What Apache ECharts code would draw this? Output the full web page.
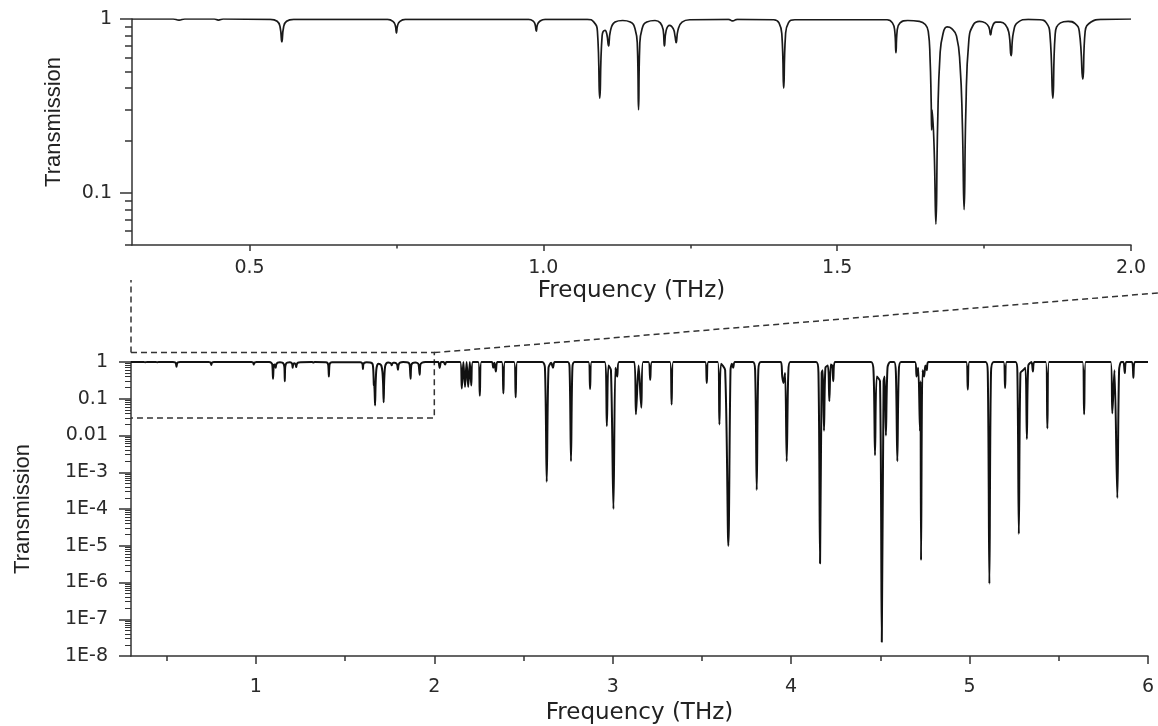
<!DOCTYPE html>
<html><head><meta charset="utf-8">
<script src="https://cdn.jsdelivr.net/npm/echarts@6/dist/echarts.min.js"></script>
<style>html,body{margin:0;padding:0;background:#fff}#c{width:1158px;height:726px}</style>
</head><body><div id="c"></div>
<script>
// ---- data: [frequency THz, transmission] ----
const topPts = [
[0.30,1],[0.37,1],[0.38,0.985],[0.39,1],
[0.44,1],[0.447,0.985],[0.455,1],
[0.535,0.995],[0.547,0.97],[0.552,0.9],[0.555,0.74],[0.558,0.9],[0.563,0.97],[0.575,0.995],
[0.735,0.995],[0.744,0.97],[0.748,0.92],[0.75,0.83],[0.752,0.92],[0.756,0.97],[0.765,0.995],
[0.975,0.995],[0.983,0.97],[0.986,0.93],[0.988,0.85],[0.99,0.93],[0.994,0.97],[1.003,0.995],
[1.075,0.995],[1.086,0.96],[1.092,0.85],[1.096,0.35],[1.1,0.8],[1.105,0.86],[1.108,0.82],[1.111,0.7],[1.114,0.85],[1.122,0.96],[1.135,0.98],
[1.148,0.96],[1.156,0.88],[1.16,0.7],[1.162,0.3],[1.164,0.7],[1.168,0.88],[1.176,0.96],[1.19,0.98],
[1.199,0.95],[1.204,0.86],[1.206,0.7],[1.209,0.86],[1.215,0.92],[1.221,0.88],[1.224,0.8],[1.226,0.73],[1.229,0.86],[1.236,0.96],[1.25,0.99],
[1.315,0.995],[1.322,0.975],[1.33,0.995],
[1.392,0.99],[1.401,0.95],[1.406,0.8],[1.409,0.4],[1.412,0.8],[1.417,0.95],[1.428,0.99],
[1.585,0.99],[1.594,0.95],[1.598,0.85],[1.6,0.64],[1.602,0.85],[1.607,0.95],[1.62,0.98],
[1.64,0.97],[1.65,0.93],[1.655,0.85],[1.658,0.6],[1.66,0.33],[1.6608,0.23],[1.6615,0.3],[1.665,0.18],[1.668,0.066],[1.671,0.25],[1.675,0.62],[1.68,0.82],[1.687,0.9],
[1.695,0.88],[1.703,0.8],[1.709,0.55],[1.713,0.25],[1.716,0.08],[1.719,0.3],[1.724,0.75],[1.732,0.93],[1.742,0.97],
[1.752,0.95],[1.758,0.9],[1.761,0.81],[1.764,0.9],[1.77,0.96],[1.778,0.96],[1.786,0.93],[1.792,0.84],[1.796,0.615],[1.8,0.84],[1.808,0.96],[1.825,0.995],
[1.845,0.99],[1.856,0.95],[1.862,0.82],[1.867,0.35],[1.871,0.82],[1.88,0.95],[1.893,0.97],[1.905,0.94],[1.912,0.85],[1.918,0.45],[1.922,0.85],[1.932,0.96],[1.95,0.995],[2.0,1]
];
const highPts = [
[2.0,1],
[2.022,1],[2.030,0.69],[2.038,1],
[2.052,1],[2.060,0.85],[2.068,1],
[2.145,1],[2.154,0.19],[2.163,1],[2.172,0.21],[2.181,1],[2.190,0.21],[2.199,1],[2.207,0.23],[2.216,1],
[2.246,1],[2.255,0.12],[2.264,1],
[2.322,1],[2.330,0.7],[2.337,0.95],[2.345,0.55],[2.353,1],
[2.378,1],[2.387,0.14],[2.396,1],
[2.447,1],[2.456,0.11],[2.465,1],
[2.605,1],[2.620,0.7],[2.630,5.5e-4],[2.640,0.7],[2.655,0.95],[2.665,0.7],[2.675,1],
[2.748,1],[2.758,0.7],[2.766,0.002],[2.774,0.7],[2.786,1],
[2.864,1],[2.873,0.185],[2.882,1],
[2.955,1],[2.967,0.018],[2.976,0.8],[2.990,0.6],[3.004,1e-4],[3.015,0.7],[3.025,0.4],[3.035,1],
[3.121,1],[3.130,0.038],[3.145,0.8],[3.160,0.057],[3.170,1],
[3.200,1],[3.210,0.33],[3.220,1],
[3.321,1],[3.330,0.07],[3.339,1],
[3.518,1],[3.527,0.27],[3.536,1],
[3.589,1],[3.598,0.02],[3.607,0.9],[3.630,0.6],[3.648,1e-5],[3.660,0.6],[3.668,0.9],[3.675,0.7],[3.685,1],
[3.785,1],[3.798,0.6],[3.807,3.3e-4],[3.816,0.6],[3.830,1],
[3.942,1],[3.950,0.4],[3.957,0.27],[3.966,0.5],[3.975,0.002],[3.984,0.5],[3.995,1],
[4.140,1],[4.153,0.5],[4.162,3.3e-6],[4.171,0.5],[4.177,0.6],[4.184,0.0135],[4.192,0.7],[4.206,0.8],[4.214,0.086],[4.222,0.85],[4.230,0.8],[4.236,0.3],[4.244,1],
[4.448,1],[4.462,0.5],[4.470,0.0029],[4.480,0.4],[4.498,0.3],[4.508,2.4e-8],[4.518,0.3],[4.524,0.4],[4.531,0.01],[4.540,0.7],[4.555,1],
[4.577,1],[4.587,0.5],[4.595,0.002],[4.603,0.5],[4.615,1],
[4.694,1],[4.703,0.4],[4.712,0.7],[4.722,0.013],[4.725,0.3],[4.728,4e-6],[4.736,0.6],[4.745,0.4],[4.752,0.8],[4.760,0.6],[4.768,1],
[4.981,1],[4.990,0.177],[4.999,1],
[5.090,1],[5.102,0.5],[5.111,9.3e-7],[5.120,0.5],[5.135,1],
[5.190,1],[5.199,0.196],[5.208,1],
[5.258,1],[5.268,0.5],[5.276,2.1e-5],[5.285,0.5],[5.300,0.6],[5.313,0.7],[5.321,0.008],[5.329,0.8],[5.347,1],[5.355,0.55],[5.363,1],
[5.427,1],[5.436,0.0156],[5.445,1],
[5.633,1],[5.642,0.038],[5.651,1],
[5.791,1],[5.800,0.04],[5.812,0.6],[5.828,2e-4],[5.838,0.6],[5.850,1],
[5.862,1],[5.870,0.5],[5.878,1],
[5.910,1],[5.918,0.37],[5.926,1],
[6.0,1]
];
// ---- axis ticks / labels ----
const topXLabels = [0.5, 1.0, 1.5, 2.0];
const topXMinor = [0.75, 1.25, 1.75];
const topYLabels = [0.1, 1];
const topYMinor = [0.05, 0.06, 0.07, 0.08, 0.09, 0.2, 0.3, 0.4, 0.5, 0.6, 0.7, 0.8, 0.9];
const botXLabels = [1, 2, 3, 4, 5, 6];
const botXMinor = [0.5, 1.5, 2.5, 3.5, 4.5, 5.5];
const botYLabels = [1, 0.1, 0.01, 1e-3, 1e-4, 1e-5, 1e-6, 1e-7, 1e-8];
const botYMinorMultipliers = [2, 3, 4, 5, 6, 7, 8, 9];
const botYMinor = [];
botYLabels.slice(1).forEach(d => botYMinorMultipliers.forEach(m => botYMinor.push(+(m * d).toPrecision(3))));
// zoom-in box and connector ends (bottom panel data coordinates)
const zoomBox = { x: [0.3, 2.0], y: [0.03, 1.8] };
const linkLeftEnd = [0.3, 170];
const linkRightEnd = [6.06, 76];

const WIDE = '"DejaVu Sans", Verdana, sans-serif';
const ARIAL = '"Liberation Sans", Arial, sans-serif';
const AX = '#333';
const lab = { fontFamily: WIDE, fontSize: 19, color: '#2a2a2a' };
const nameStyle = { fontFamily: WIDE, fontSize: 23, color: '#222' };
const yNameStyle = { fontFamily: ARIAL, fontSize: 22, color: '#222' };

function yFmt(v) {
  if (v >= 0.01) return String(+v.toPrecision(3));
  return '1E-' + Math.round(-Math.log10(v));
}

const chart = echarts.init(document.getElementById('c'), null, { renderer: 'canvas' });
chart.setOption({
  animation: false,
  backgroundColor: '#fff',
  grid: [
    { left: 132, top: 19, width: 999, height: 226 },
    { left: 131, top: 362, width: 1017, height: 298 }
  ],
  xAxis: [
    { gridIndex: 0, type: 'value', position: 'bottom', min: 0.3, max: 2.0,
      axisLine: { lineStyle: { color: AX, width: 1.5 } },
      axisTick: { customValues: topXLabels, length: 6, lineStyle: { color: AX, width: 1.5 } },
      axisLabel: Object.assign({ customValues: topXLabels, margin: 14, formatter: v => v.toFixed(1) }, lab),
      splitLine: { show: false },
      name: 'Frequency (THz)', nameLocation: 'middle', nameGap: 35, nameTextStyle: nameStyle },
    { gridIndex: 0, type: 'value', position: 'bottom', min: 0.3, max: 2.0,
      axisLine: { show: false },
      axisTick: { customValues: topXMinor, length: 3.5, lineStyle: { color: AX, width: 1.5 } },
      axisLabel: { show: false }, splitLine: { show: false } },
    { gridIndex: 1, type: 'value', position: 'bottom', min: 0.3, max: 6,
      axisLine: { lineStyle: { color: AX, width: 1.5 } },
      axisTick: { customValues: botXLabels, length: 8, lineStyle: { color: AX, width: 1.5 } },
      axisLabel: Object.assign({ customValues: botXLabels, margin: 22, formatter: v => String(v) }, lab),
      splitLine: { show: false },
      name: 'Frequency (THz)', nameLocation: 'middle', nameGap: 46, nameTextStyle: nameStyle },
    { gridIndex: 1, type: 'value', position: 'bottom', min: 0.3, max: 6,
      axisLine: { show: false },
      axisTick: { customValues: botXMinor, length: 5, lineStyle: { color: AX, width: 1.5 } },
      axisLabel: { show: false }, splitLine: { show: false } }
  ],
  yAxis: [
    { gridIndex: 0, type: 'log', logBase: 10, position: 'left', min: 0.05, max: 1,
      axisLine: { show: true, lineStyle: { color: AX, width: 1.5 } },
      axisTick: { show: true, customValues: topYLabels, length: 12, lineStyle: { color: AX, width: 1.5 } },
      axisLabel: Object.assign({ customValues: topYLabels, margin: 20, formatter: yFmt }, lab),
      splitLine: { show: false },
      name: 'Transmission', nameLocation: 'middle', nameRotate: 90, nameGap: 67,
      nameTextStyle: Object.assign({ padding: [0, 0, 0, 20] }, yNameStyle) },
    { gridIndex: 0, type: 'log', logBase: 10, position: 'left', min: 0.05, max: 1,
      axisLine: { show: false },
      axisTick: { show: true, customValues: topYMinor, length: 7, lineStyle: { color: AX, width: 1.5 } },
      axisLabel: { show: false }, splitLine: { show: false } },
    { gridIndex: 1, type: 'log', logBase: 10, position: 'left', min: 1e-8, max: 1,
      axisLine: { show: true, lineStyle: { color: AX, width: 1.5 } },
      axisTick: { show: true, customValues: botYLabels, length: 12, lineStyle: { color: AX, width: 1.5 } },
      axisLabel: Object.assign({ customValues: botYLabels, margin: 23, formatter: yFmt }, lab),
      splitLine: { show: false },
      name: 'Transmission', nameLocation: 'middle', nameRotate: 90, nameGap: 97, nameTextStyle: yNameStyle },
    { gridIndex: 1, type: 'log', logBase: 10, position: 'left', min: 1e-8, max: 1,
      axisLine: { show: false },
      axisTick: { show: true, customValues: botYMinor, length: 6, lineStyle: { color: AX, width: 1 } },
      axisLabel: { show: false }, splitLine: { show: false } }
  ],
  series: [
    { type: 'line', xAxisIndex: 0, yAxisIndex: 0, data: topPts, showSymbol: false, symbol: 'none',
      smooth: 0.5, lineStyle: { color: '#1a1a1a', width: 1.7 }, silent: true },
    { type: 'line', xAxisIndex: 2, yAxisIndex: 2, data: topPts.concat(highPts), showSymbol: false, symbol: 'none',
      smooth: 0.3, lineStyle: { color: '#111', width: 2 }, silent: true },
    { type: 'custom', xAxisIndex: 2, yAxisIndex: 2, data: [[zoomBox.x[0], zoomBox.y[0]]], silent: true, clip: false,
      renderItem: function (params, api) {
        const a = api.coord([zoomBox.x[0], zoomBox.y[1]]);
        const b = api.coord([zoomBox.x[1], zoomBox.y[1]]);
        const c = api.coord([zoomBox.x[1], zoomBox.y[0]]);
        const d = api.coord([zoomBox.x[0], zoomBox.y[0]]);
        const l = api.coord(linkLeftEnd);
        const r = api.coord(linkRightEnd);
        const style = { stroke: '#333', lineWidth: 1.5, lineDash: [6, 4], fill: null };
        return { type: 'group', children: [
          { type: 'polyline', shape: { points: [a, b, c, d] }, style: style },
          { type: 'line', shape: { x1: a[0], y1: a[1], x2: l[0], y2: l[1] }, style: style },
          { type: 'line', shape: { x1: b[0], y1: b[1], x2: r[0], y2: r[1] }, style: style }
        ] };
      } }
  ]
});
</script></body></html>
